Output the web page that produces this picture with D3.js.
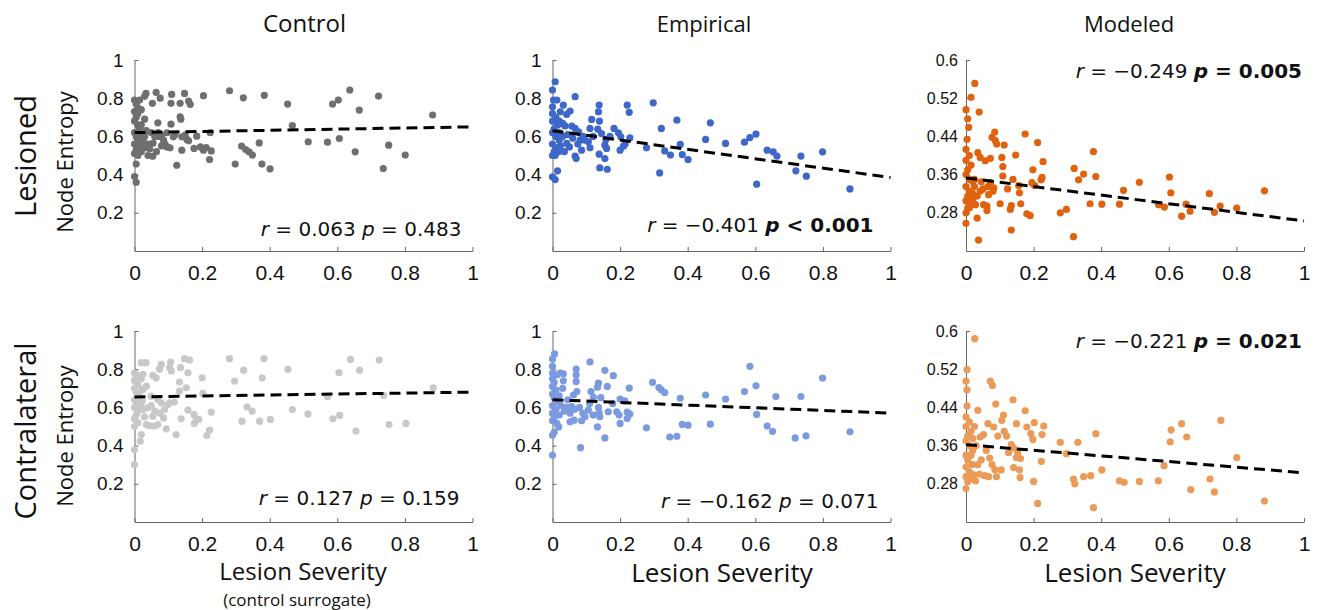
<!DOCTYPE html>
<html>
<head>
<meta charset="utf-8">
<script src="https://cdn.jsdelivr.net/npm/d3@7"></script>
<style>
  body { margin: 0; background: #fff; }
  .axis path, .axis line { stroke: #666; }
  .axis text { fill: #111; font-family: "Liberation Sans", Arial, sans-serif; }
  .label { font-family: "Open Sans", "Noto Sans", sans-serif; fill: #111; }
  .stat { font-family: "DejaVu Sans", Verdana, sans-serif; font-size: 20px; fill: #111; }
</style>
</head>
<body>
<div id="chart"></div>
<script>
// column / row titles
const colTitles = ["Control", "Empirical", "Modeled"];
const rowTitles = ["Lesioned", "Contralateral"];

// tick values
const xTicks = [0, 0.2, 0.4, 0.6, 0.8, 1];
const yTicksEntropy = [0.2, 0.4, 0.6, 0.8, 1];
const yTicksModel = [0.28, 0.36, 0.44, 0.52, 0.6];

// [lesion severity, node entropy]
const controlLesioned = [
  [0,0.79],[0.005,0.77],[0.01,0.75],[0,0.73],[0.01,0.72],[0.005,0.70],[0,0.68],[0.01,0.66],[0.015,0.64],[0,0.62],
  [0.005,0.60],[0.01,0.58],[0,0.56],[0.015,0.55],[0.005,0.53],[0,0.51],[0.01,0.50],[0.02,0.52],[0.02,0.57],[0.02,0.61],
  [0.02,0.66],[0.02,0.74],[0.015,0.79],[0.03,0.69],[0.03,0.60],[0.03,0.54],[0.04,0.50],[0.04,0.56],[0.035,0.63],[0.005,0.455],
  [0,0.39],[0.005,0.36],[0.034,0.825],[0.03,0.81],[0.064,0.83],[0.076,0.80],[0.053,0.773],[0.069,0.671],[0.11,0.82],[0.108,0.773],
  [0.108,0.664],[0.135,0.773],[0.135,0.703],[0.137,0.69],[0.148,0.825],[0.16,0.785],[0.165,0.768],[0.204,0.813],[0.125,0.449],[0.14,0.528],
  [0.222,0.479],[0.227,0.524],[0.224,0.619],[0.184,0.601],[0.176,0.537],[0.195,0.545],[0.204,0.528],[0.212,0.542],[0.15,0.607],[0.155,0.584],
  [0.16,0.577],[0.14,0.598],[0.096,0.545],[0.105,0.54],[0.086,0.58],[0.08,0.605],[0.07,0.60],[0.055,0.565],[0.045,0.535],[0.054,0.496],
  [0.065,0.52],[0.06,0.60],[0.05,0.62],[0.07,0.62],[0.096,0.619],[0.115,0.598],[0.09,0.56],[0.08,0.55],[0.12,0.61],[0.025,0.58],
  [0.281,0.839],[0.298,0.455],[0.317,0.549],[0.322,0.802],[0.329,0.531],[0.339,0.519],[0.349,0.502],[0.369,0.566],[0.377,0.455],[0.384,0.815],
  [0.401,0.430],[0.453,0.769],[0.467,0.657],[0.514,0.572],[0.571,0.570],[0.586,0.769],[0.603,0.790],[0.606,0.589],[0.637,0.843],[0.653,0.519],
  [0.665,0.738],[0.722,0.811],[0.736,0.432],[0.752,0.554],[0.801,0.502],[0.882,0.712]
];

const empiricalLesioned = [
  [0.008,0.886],[0,0.843],[0.003,0.79],[0.013,0.79],[0,0.755],[0.067,0.808],[0,0.72],[0.01,0.70],[0,0.68],[0.015,0.66],
  [0.005,0.64],[0,0.62],[0.01,0.60],[0.02,0.58],[0,0.56],[0.01,0.54],[0.005,0.52],[0,0.50],[0.02,0.62],[0.02,0.68],
  [0,0.388],[0.008,0.374],[0.015,0.42],[0.032,0.764],[0.023,0.729],[0.052,0.733],[0.042,0.715],[0.03,0.668],[0.037,0.655],[0.057,0.654],
  [0.067,0.642],[0.077,0.624],[0.116,0.689],[0.111,0.642],[0.138,0.764],[0.136,0.729],[0.139,0.68],[0.134,0.638],[0.145,0.615],[0.182,0.642],
  [0.195,0.619],[0.202,0.598],[0.158,0.584],[0.155,0.554],[0.16,0.537],[0.20,0.528],[0.21,0.549],[0.138,0.507],[0.155,0.484],[0.162,0.428],
  [0.14,0.435],[0.067,0.497],[0.07,0.484],[0.05,0.545],[0.042,0.563],[0.086,0.528],[0.111,0.54],[0.082,0.58],[0.096,0.58],[0.106,0.572],
  [0.023,0.55],[0.018,0.52],[0.008,0.50],[0.03,0.60],[0.045,0.61],[0.06,0.59],[0.09,0.60],[0.12,0.60],[0.17,0.60],[0.221,0.764],
  [0.227,0.726],[0.229,0.593],[0.215,0.56],[0.035,0.52],[0.075,0.56],
  [0.278,0.54],[0.298,0.776],[0.317,0.409],[0.322,0.642],[0.332,0.524],[0.349,0.502],[0.368,0.685],[0.378,0.558],[0.384,0.505],[0.401,0.479],
  [0.453,0.584],[0.467,0.671],[0.512,0.563],[0.568,0.570],[0.584,0.594],[0.602,0.612],[0.604,0.350],[0.635,0.528],[0.653,0.519],[0.664,0.497],
  [0.72,0.420],[0.735,0.497],[0.751,0.392],[0.799,0.519],[0.880,0.325]
];

const modeledLesioned = [
  [0.026,0.551],[0.015,0.522],[0.039,0.491],[0,0.496],[0.005,0.477],[0.008,0.459],[0.003,0.434],[0,0.413],[0.01,0.40],[0,0.39],
  [0.015,0.38],[0.005,0.37],[0,0.36],[0.01,0.35],[0.02,0.345],[0,0.335],[0.01,0.325],[0.005,0.315],[0,0.305],[0.015,0.30],
  [0.005,0.29],[0,0.28],[0.02,0.32],[0.025,0.335],[0,0.258],[0.037,0.223],[0.033,0.269],[0.035,0.406],[0.042,0.396],[0.057,0.389],
  [0.072,0.394],[0.077,0.438],[0.085,0.449],[0.087,0.431],[0.091,0.424],[0.113,0.422],[0.106,0.396],[0.109,0.377],[0.109,0.357],[0.147,0.401],
  [0.175,0.445],[0.212,0.427],[0.139,0.35],[0.123,0.33],[0.156,0.337],[0.158,0.322],[0.162,0.299],[0.198,0.37],[0.195,0.343],[0.203,0.337],
  [0.228,0.387],[0.225,0.354],[0.222,0.349],[0.18,0.278],[0.19,0.274],[0.134,0.244],[0.134,0.295],[0.131,0.287],[0.101,0.299],[0.072,0.343],
  [0.082,0.332],[0.067,0.318],[0.062,0.294],[0.052,0.297],[0.062,0.285],[0.028,0.297],[0.042,0.325],[0.033,0.315],[0.05,0.33],[0.025,0.35],
  [0.045,0.345],[0.065,0.335],[0.08,0.325],[0.02,0.31],[0.01,0.29],
  [0.279,0.280],[0.297,0.287],[0.318,0.230],[0.320,0.373],[0.333,0.349],[0.348,0.361],[0.367,0.299],[0.377,0.408],[0.384,0.356],[0.402,0.298],
  [0.454,0.298],[0.466,0.327],[0.513,0.344],[0.570,0.297],[0.587,0.292],[0.602,0.355],[0.606,0.322],[0.638,0.273],[0.651,0.298],[0.663,0.283],
  [0.720,0.320],[0.735,0.281],[0.752,0.294],[0.801,0.290],[0.883,0.326]
];

const controlContra = [
  [0,0.379],[0,0.30],[0.02,0.458],[0.017,0.423],[0,0.78],[0.005,0.76],[0,0.74],[0.01,0.72],[0,0.70],[0.005,0.68],
  [0.01,0.66],[0,0.64],[0.015,0.62],[0,0.60],[0.01,0.58],[0.005,0.56],[0,0.54],[0.01,0.52],[0,0.50],[0.02,0.60],
  [0.02,0.834],[0.034,0.834],[0.005,0.773],[0.025,0.773],[0.054,0.768],[0.064,0.755],[0.074,0.80],[0.079,0.825],[0.107,0.837],[0.104,0.808],
  [0.109,0.79],[0.136,0.808],[0.148,0.855],[0.163,0.848],[0.158,0.781],[0.133,0.733],[0.153,0.703],[0.133,0.685],[0.20,0.755],[0.202,0.673],
  [0.227,0.575],[0.138,0.54],[0.158,0.586],[0.176,0.563],[0.183,0.54],[0.177,0.516],[0.19,0.537],[0.123,0.458],[0.214,0.453],[0.222,0.481],
  [0.094,0.488],[0.086,0.545],[0.089,0.589],[0.099,0.615],[0.079,0.624],[0.035,0.51],[0.044,0.505],[0.059,0.502],[0.069,0.51],[0.054,0.554],
  [0.039,0.598],[0.049,0.61],[0.025,0.589],[0.023,0.633],[0.049,0.659],[0.069,0.642],[0.104,0.624],[0.118,0.628],[0.025,0.694],[0.035,0.711],
  [0.06,0.58],[0.075,0.57],[0.03,0.55],[0.015,0.68],[0.02,0.75],
  [0.281,0.855],[0.296,0.738],[0.318,0.528],[0.323,0.795],[0.333,0.603],[0.348,0.580],[0.370,0.528],[0.378,0.755],[0.383,0.855],[0.402,0.537],
  [0.454,0.799],[0.467,0.589],[0.513,0.566],[0.571,0.656],[0.587,0.540],[0.605,0.782],[0.607,0.558],[0.639,0.851],[0.655,0.476],[0.666,0.795],
  [0.724,0.848],[0.737,0.663],[0.753,0.510],[0.803,0.516],[0.884,0.703]
];

const empiricalContra = [
  [0.006,0.88],[0,0.854],[0,0.815],[0,0.78],[0,0.349],[0,0.454],[0.111,0.838],[0.155,0.794],[0.18,0.766],[0.07,0.801],
  [0.032,0.776],[0.023,0.78],[0.032,0.739],[0.013,0.77],[0.07,0.771],[0.07,0.736],[0.072,0.683],[0.062,0.665],[0.136,0.727],[0.133,0.706],
  [0.114,0.683],[0.121,0.653],[0.162,0.71],[0.143,0.651],[0.20,0.644],[0.214,0.634],[0.178,0.621],[0.19,0.577],[0.197,0.56],[0.229,0.565],
  [0.221,0.542],[0.20,0.516],[0.133,0.498],[0.155,0.44],[0.083,0.389],[0.165,0.577],[0.14,0.551],[0.138,0.572],[0.136,0.60],[0.106,0.586],
  [0.096,0.551],[0.086,0.53],[0.052,0.525],[0.064,0.533],[0.018,0.498],[0.013,0.516],[0.042,0.60],[0.057,0.604],[0.052,0.569],[0.066,0.59],
  [0,0.75],[0.005,0.73],[0,0.71],[0.01,0.69],[0,0.67],[0.005,0.65],[0.015,0.63],[0,0.61],[0.01,0.59],[0,0.57],
  [0.005,0.55],[0,0.53],[0.02,0.56],[0.02,0.66],[0.025,0.61],[0.035,0.58],[0.045,0.64],[0.03,0.70],[0.08,0.60],[0.09,0.57],
  [0.227,0.701],[0.221,0.575],[0.11,0.62],[0.12,0.56],[0.005,0.47],
  [0.278,0.493],[0.296,0.731],[0.315,0.704],[0.322,0.692],[0.332,0.678],[0.347,0.445],[0.368,0.449],[0.378,0.648],[0.384,0.511],[0.401,0.507],
  [0.453,0.665],[0.467,0.512],[0.512,0.644],[0.568,0.683],[0.584,0.815],[0.602,0.713],[0.604,0.563],[0.635,0.502],[0.651,0.475],[0.661,0.657],
  [0.718,0.440],[0.735,0.657],[0.750,0.451],[0.799,0.754],[0.880,0.472]
];

const modeledContra = [
  [0.026,0.584],[0.003,0.519],[0,0.495],[0.003,0.477],[0.003,0.443],[0.072,0.495],[0.078,0.486],[0.035,0.434],[0.088,0.447],[0.139,0.456],
  [0.175,0.433],[0.111,0.424],[0.106,0.413],[0.065,0.406],[0.082,0.399],[0.149,0.406],[0.18,0.399],[0.202,0.408],[0.23,0.401],[0.225,0.383],
  [0.094,0.38],[0.113,0.39],[0.192,0.385],[0.198,0.373],[0.052,0.383],[0.042,0.378],[0.134,0.362],[0.141,0.355],[0.126,0.345],[0.153,0.345],
  [0.149,0.335],[0.161,0.333],[0.141,0.314],[0.158,0.309],[0.16,0.293],[0.104,0.309],[0.07,0.334],[0.077,0.32],[0.067,0.295],[0.055,0.297],
  [0.018,0.32],[0.023,0.299],[0.028,0.286],[0.20,0.285],[0.223,0.327],[0.212,0.239],[0,0.27],[0,0.42],[0.01,0.41],[0,0.40],
  [0.015,0.39],[0.005,0.38],[0,0.37],[0.01,0.36],[0.02,0.35],[0,0.34],[0.005,0.33],[0.015,0.34],[0,0.315],[0.01,0.305],
  [0,0.295],[0.005,0.285],[0.02,0.375],[0.025,0.40],[0.03,0.36],[0.045,0.33],[0.06,0.35],[0.085,0.31],[0.04,0.30],[0.09,0.295],
  [0.12,0.38],[0.035,0.32],[0.015,0.29],
  [0.279,0.367],[0.297,0.343],[0.318,0.290],[0.322,0.280],[0.331,0.367],[0.348,0.295],[0.369,0.297],[0.377,0.230],[0.384,0.385],[0.402,0.309],
  [0.454,0.286],[0.468,0.283],[0.513,0.285],[0.569,0.286],[0.586,0.318],[0.604,0.368],[0.607,0.393],[0.638,0.406],[0.653,0.378],[0.665,0.268],
  [0.722,0.290],[0.735,0.263],[0.754,0.413],[0.801,0.335],[0.883,0.244]
];

// regression line: value at severity 0 and at severity 1
const fitLines = [[0.62, 0.65], [0.63, 0.385], [0.353, 0.263], [0.655, 0.68], [0.64, 0.57], [0.362, 0.303]];

// correlation stats
const statR = ["0.063", "\u22120.401", "\u22120.249", "0.127", "\u22120.162", "\u22120.221"];
const statP = ["= 0.483", "< 0.001", "= 0.005", "= 0.159", "= 0.071", "= 0.021"];
const statBold = [false, true, true, false, false, true];

const dotColors = ["#6f6f6f", "#3d67c9", "#e0620f", "#c8c8c8", "#7b9ae0", "#eb9b57"];

// layout
const colX = [134.5, 552.5, 966];
const rowY = [60, 331];
const plotW = 338, plotH = 191;
// stat text anchor (end x, baseline y) relative to each plot
const statPos = [[327, 176], [321, 172], [336, 18], [325, 174], [326, 177], [336, 17]];

const panelData = [controlLesioned, empiricalLesioned, modeledLesioned, controlContra, empiricalContra, modeledContra];

const svg = d3.select("#chart").append("svg")
    .attr("width", 1318)
    .attr("height", 610);

panelData.forEach((data, i) => {
    let row = Math.floor(i / 3), col = i % 3;
    let modeled = col === 2;

    let g = svg.append("g")
        .attr("transform", "translate(" + colX[col] + "," + rowY[row] + ")");

    let x = d3.scaleLinear().domain([0, 1]).range([0, plotW]);
    let y = d3.scaleLinear().domain(modeled ? [0.2, 0.6] : [0, 1]).range([plotH, 0]);

    // axes, ticks pointing inward
    let xAxis = d3.axisBottom(x)
        .tickValues(xTicks)
        .tickFormat(d3.format("~g"))
        .tickSizeInner(-4)
        .tickSizeOuter(0)
        .tickPadding(14);
    let yAxis = d3.axisLeft(y)
        .tickValues(modeled ? yTicksModel : yTicksEntropy)
        .tickFormat(d3.format("~g"))
        .tickSizeInner(-4)
        .tickSizeOuter(0)
        .tickPadding(modeled ? 8 : 11);

    g.append("g")
        .attr("class", "axis")
        .attr("transform", "translate(0," + plotH + ")")
        .call(xAxis)
        .selectAll("text")
        .attr("font-size", 21);
    g.append("g")
        .attr("class", "axis")
        .call(yAxis)
        .selectAll("text")
        .attr("font-size", modeled ? 16 : 19);
    g.selectAll(".axis text").attr("font-family", null);

    // points
    g.append("g")
        .selectAll("circle")
        .data(data)
        .enter()
        .append("circle")
        .attr("cx", d => x(d[0]))
        .attr("cy", d => y(d[1]))
        .attr("r", 3.6)
        .attr("fill", dotColors[i]);

    // dashed fit line
    g.append("line")
        .attr("x1", x(0))
        .attr("y1", y(fitLines[i][0]))
        .attr("x2", x(1))
        .attr("y2", y(fitLines[i][1]))
        .attr("stroke", "#000")
        .attr("stroke-width", 3)
        .attr("stroke-dasharray", "11,6");

    // r / p text
    let t = g.append("text")
        .attr("class", "stat")
        .attr("x", statPos[i][0])
        .attr("y", statPos[i][1])
        .attr("text-anchor", "end");
    t.append("tspan").attr("font-style", "italic").text("r");
    t.append("tspan").text(" = " + statR[i] + " ");
    let pSpan = t.append("tspan").attr("font-weight", statBold[i] ? "bold" : "normal");
    pSpan.append("tspan").attr("font-style", "italic").text("p");
    pSpan.append("tspan").text(" " + statP[i]);
});

// column titles
const titleX = [304.5, 704, 1129];
const titleSize = [24, 22, 22];
colTitles.forEach((d, i) => {
    svg.append("text")
        .attr("class", "label")
        .attr("x", titleX[i])
        .attr("y", 32)
        .attr("text-anchor", "middle")
        .attr("font-size", titleSize[i])
        .text(d);
});

// row titles and y labels
const rowCenter = [156, 431];
const yLabelCenter = [162, 436];
rowTitles.forEach((d, i) => {
    svg.append("text")
        .attr("class", "label")
        .attr("transform", "translate(36," + rowCenter[i] + ") rotate(-90)")
        .attr("text-anchor", "middle")
        .attr("font-size", 29)
        .text(d);
    svg.append("text")
        .attr("class", "label")
        .attr("transform", "translate(73," + yLabelCenter[i] + ") rotate(-90)")
        .attr("text-anchor", "middle")
        .attr("font-size", 22)
        .text("Node Entropy");
});

// x labels
const xLabelX = [303, 722, 1135];
const xLabelY = [580, 582, 582];
const xLabelSize = [24, 26, 26];
xLabelX.forEach((cx, i) => {
    svg.append("text")
        .attr("class", "label")
        .attr("x", cx)
        .attr("y", xLabelY[i])
        .attr("text-anchor", "middle")
        .attr("font-size", xLabelSize[i])
        .text("Lesion Severity");
});
svg.append("text")
    .attr("class", "label")
    .attr("x", 297)
    .attr("y", 606)
    .attr("text-anchor", "middle")
    .attr("font-size", 17)
    .text("(control surrogate)");
</script>
</body>
</html>
